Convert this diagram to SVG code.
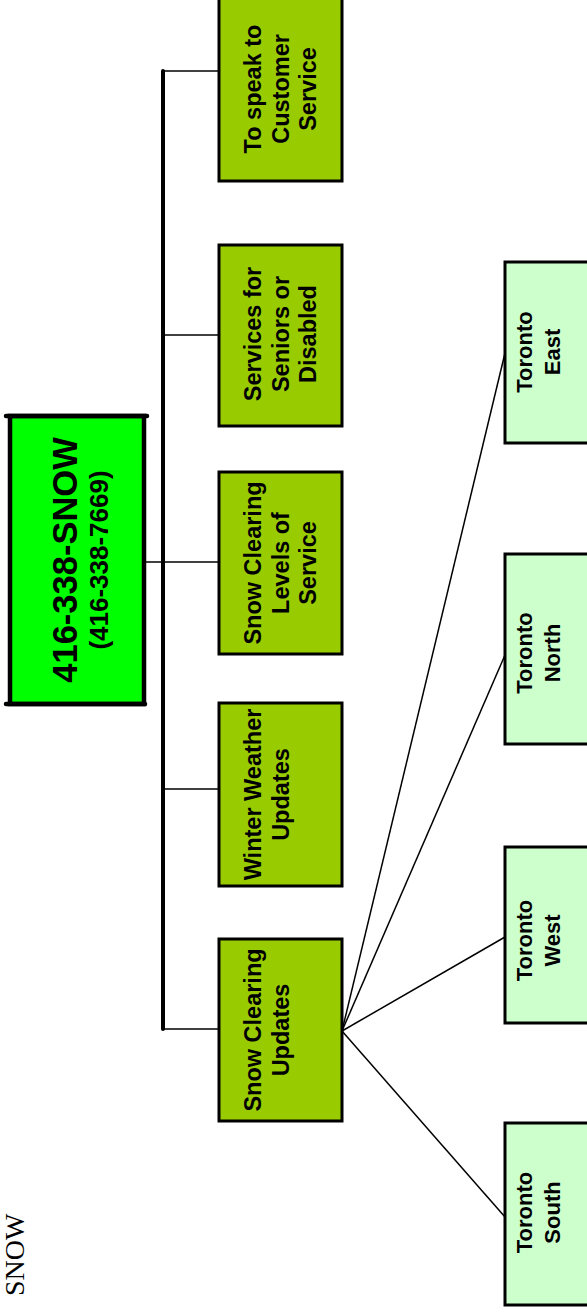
<svg xmlns="http://www.w3.org/2000/svg" width="587" height="1316" viewBox="0 0 587 1316">
<style>
.main{fill:#00FF00;stroke:#000;stroke-width:4.5}
.mid{fill:#99CC00;stroke:#000;stroke-width:3}
.leaf{fill:#CCFFCC;stroke:#000;stroke-width:3}
.t{font-family:"Liberation Sans",Arial,sans-serif;font-weight:bold;fill:#000;text-anchor:middle}
.m{font-size:23.5px}
.l{font-size:22px}
.c{stroke:#000;stroke-width:1.5;fill:none}
</style>
<rect width="587" height="1316" fill="#fff"/>
<text transform="translate(24,1296) rotate(-90)" font-family="'Liberation Serif','Times New Roman',serif" font-size="28" fill="#000">SNOW</text>
<g id="connectors">
<line class="c" x1="146" y1="562" x2="163" y2="562"/>
<line x1="163" y1="71" x2="163" y2="1029" stroke="#000" stroke-width="4" stroke-linecap="round"/>
<line class="c" x1="163" y1="71" x2="219" y2="71"/>
<line class="c" x1="163" y1="335" x2="219" y2="335"/>
<line class="c" x1="163" y1="562" x2="219" y2="562"/>
<line class="c" x1="163" y1="789" x2="219" y2="789"/>
<line class="c" x1="163" y1="1029" x2="219" y2="1029"/>
<line class="c" x1="342" y1="1031" x2="505" y2="353"/>
<line class="c" x1="342" y1="1031" x2="505" y2="655"/>
<line class="c" x1="342" y1="1031" x2="505" y2="937"/>
<line class="c" x1="342" y1="1031" x2="505" y2="1217"/>
</g>
<g id="main">
<rect class="main" x="10" y="416" width="134" height="288"/>
<line x1="6" y1="416" x2="147" y2="416" stroke="#000" stroke-width="4.5" stroke-linecap="round"/>
<line x1="6" y1="704" x2="145" y2="704" stroke="#000" stroke-width="4.5" stroke-linecap="round"/>
<text class="t" transform="translate(77,560) rotate(-90)" font-size="34.5">416-338-SNOW</text>
<text class="t" transform="translate(108,560) rotate(-90)" font-size="26">(416-338-7669)</text>
</g>
<g id="customer-service">
<rect class="mid" x="219" y="-2" width="123" height="183"/>
<text class="t m" transform="translate(261,89) rotate(-90)"><tspan x="0" y="0">To speak to</tspan><tspan x="0" y="27.5">Customer</tspan><tspan x="0" y="55">Service</tspan></text>
</g>
<g id="seniors">
<rect class="mid" x="219" y="245" width="123" height="181"/>
<text class="t m" transform="translate(261,334) rotate(-90)"><tspan x="0" y="0">Services for</tspan><tspan x="0" y="27.5">Seniors or</tspan><tspan x="0" y="55">Disabled</tspan></text>
</g>
<g id="levels">
<rect class="mid" x="219" y="472" width="123" height="182"/>
<text class="t m" transform="translate(261,563) rotate(-90)"><tspan x="0" y="0">Snow Clearing</tspan><tspan x="0" y="27.5">Levels of</tspan><tspan x="0" y="55">Service</tspan></text>
</g>
<g id="winter">
<rect class="mid" x="219" y="703" width="123" height="183"/>
<text class="t m" transform="translate(261,794.5) rotate(-90)"><tspan x="0" y="0">Winter Weather</tspan><tspan x="0" y="27.5">Updates</tspan></text>
</g>
<g id="snow-updates">
<rect class="mid" x="219" y="939" width="123" height="182"/>
<text class="t m" transform="translate(261,1030) rotate(-90)"><tspan x="0" y="0">Snow Clearing</tspan><tspan x="0" y="27.5">Updates</tspan></text>
</g>
<g id="east">
<rect class="leaf" x="505" y="262" width="100" height="181"/>
<text class="t l" transform="translate(532,352) rotate(-90)"><tspan x="0" y="0">Toronto</tspan><tspan x="0" y="28">East</tspan></text>
</g>
<g id="north">
<rect class="leaf" x="505" y="554" width="100" height="190"/>
<text class="t l" transform="translate(532,653) rotate(-90)"><tspan x="0" y="0">Toronto</tspan><tspan x="0" y="28">North</tspan></text>
</g>
<g id="west">
<rect class="leaf" x="505" y="847" width="100" height="176"/>
<text class="t l" transform="translate(532,940.5) rotate(-90)"><tspan x="0" y="0">Toronto</tspan><tspan x="0" y="28">West</tspan></text>
</g>
<g id="south">
<rect class="leaf" x="505" y="1123" width="100" height="182"/>
<text class="t l" transform="translate(532,1212.5) rotate(-90)"><tspan x="0" y="0">Toronto</tspan><tspan x="0" y="28">South</tspan></text>
</g>
</svg>
